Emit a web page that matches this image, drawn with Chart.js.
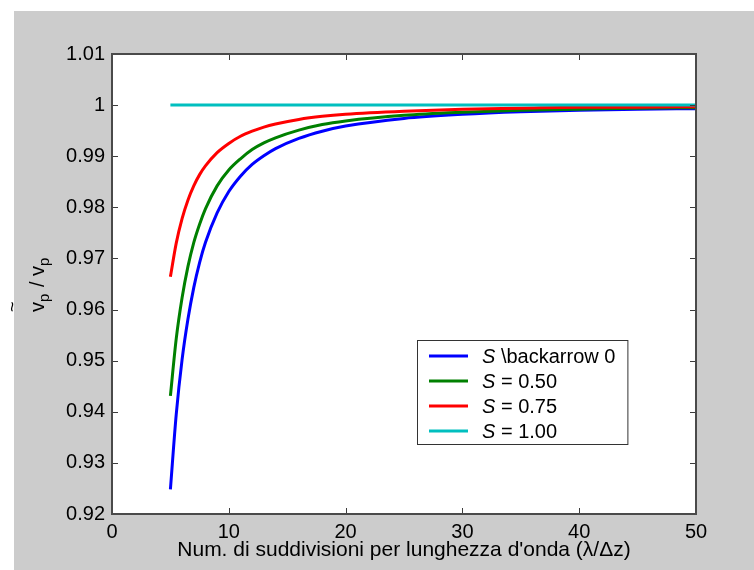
<!DOCTYPE html>
<html>
<head>
<meta charset="utf-8">
<script src="https://cdn.jsdelivr.net/npm/chart.js@4/dist/chart.umd.min.js"></script>
<style>
  html, body { margin: 0; padding: 0; background: #fff; }
</style>
</head>
<body>
<canvas id="grafico" width="754" height="570"></canvas>
<script>
// Dati: rapporto di velocità di fase vs. N = lambda/dz
const divisioni = [5, 5.5, 6, 6.5, 7, 7.5, 8, 9, 10, 11, 12, 13, 14, 16, 18, 20, 25, 30, 35, 40, 45, 50];
const vS0   = [0.9248, 0.9395, 0.9502, 0.9581, 0.9643, 0.9692, 0.9731, 0.9789, 0.9831, 0.9861, 0.9884, 0.9901, 0.9915, 0.9935, 0.9949, 0.9959, 0.9974, 0.9982, 0.9987, 0.9990, 0.9992, 0.9993];
const vS050 = [0.9431, 0.9543, 0.9623, 0.9684, 0.9731, 0.9767, 0.9797, 0.9842, 0.9873, 0.9895, 0.9913, 0.9926, 0.9936, 0.9951, 0.9962, 0.9969, 0.9980, 0.9986, 0.9990, 0.9992, 0.9994, 0.9995];
const vS075 = [0.9664, 0.9730, 0.9778, 0.9814, 0.9842, 0.9864, 0.9881, 0.9907, 0.9925, 0.9939, 0.9949, 0.9957, 0.9963, 0.9972, 0.9978, 0.9982, 0.9988, 0.9992, 0.9994, 0.9996, 0.9996, 0.9997];
const vS100 = [1, 1, 1, 1, 1, 1, 1, 1, 1, 1, 1, 1, 1, 1, 1, 1, 1, 1, 1, 1, 1, 1];

const etichette = ['S \\backarrow 0', 'S = 0.50', 'S = 0.75', 'S = 1.00'];
const tickX = [0, 10, 20, 30, 40, 50];
const tickY = [0.92, 0.93, 0.94, 0.95, 0.96, 0.97, 0.98, 0.99, 1.00, 1.01];
const titoloX = "Num. di suddivisioni per lunghezza d'onda (\u03bb/\u0394z)";

const colori = ['#0000ff', '#008000', '#ff0000', '#00bfbf'];
const FONT = "'Liberation Sans', Arial, sans-serif";
const font20 = { family: FONT, size: 20 };
const font21 = { family: FONT, size: 21 };

const serie = [vS0, vS050, vS075, vS100];

// Sfondo grigio stile MATLAB
const sfondo = {
  id: 'sfondo',
  beforeDraw(chart) {
    const ctx = chart.ctx;
    const a = chart.chartArea;
    ctx.save();
    ctx.fillStyle = '#ffffff';
    ctx.fillRect(0, 0, chart.width, chart.height);
    ctx.fillStyle = '#cccccc';
    ctx.fillRect(14, 11, chart.width - 14, chart.height - 11);
    ctx.fillStyle = '#ffffff';
    ctx.fillRect(a.left, a.top, a.right - a.left, a.bottom - a.top);
    ctx.restore();
  }
};

// Cornice, tacche interne, legenda ed etichetta asse y
const cornice = {
  id: 'cornice',
  afterDraw(chart) {
    const ctx = chart.ctx;
    const { left, right, top, bottom } = chart.chartArea;
    const sx = chart.scales.x;
    const sy = chart.scales.y;
    ctx.save();

    // tacche
    ctx.strokeStyle = '#3c3c3c';
    ctx.lineWidth = 1;
    ctx.beginPath();
    tickX.forEach(v => {
      const px = Math.round(sx.getPixelForValue(v)) + 0.5;
      ctx.moveTo(px, bottom); ctx.lineTo(px, bottom - 6);
      ctx.moveTo(px, top); ctx.lineTo(px, top + 6);
    });
    tickY.forEach(v => {
      const py = Math.round(sy.getPixelForValue(v)) + 0.5;
      ctx.moveTo(left, py); ctx.lineTo(left + 6, py);
      ctx.moveTo(right, py); ctx.lineTo(right - 6, py);
    });
    ctx.stroke();

    // cornice
    ctx.strokeStyle = '#4a4a4a';
    ctx.lineWidth = 2;
    ctx.strokeRect(left, top, right - left, bottom - top);

    // legenda
    ctx.font = '20px ' + FONT;
    const xTesto = 482;
    let larghezza = 0;
    etichette.forEach(t => { larghezza = Math.max(larghezza, ctx.measureText(t).width); });
    const bx = 417, by = 340, bw = xTesto + larghezza + 12 - bx, bh = 104;
    ctx.fillStyle = '#ffffff';
    ctx.fillRect(bx, by, bw, bh);
    ctx.strokeStyle = '#333333';
    ctx.lineWidth = 1;
    ctx.strokeRect(bx + 0.5, by + 0.5, bw, bh);
    chart.data.datasets.forEach((ds, i) => {
      const y = 356 + i * 25;
      ctx.strokeStyle = ds.borderColor;
      ctx.lineWidth = 3;
      ctx.beginPath();
      ctx.moveTo(429, y); ctx.lineTo(468, y);
      ctx.stroke();
      ctx.fillStyle = '#000';
      ctx.textBaseline = 'middle';
      ctx.textAlign = 'left';
      ctx.font = 'italic 20px ' + FONT;
      ctx.fillText('S', xTesto, y + 1);
      const ws = ctx.measureText('S').width;
      ctx.font = '20px ' + FONT;
      ctx.fillText(ds.label.slice(1), xTesto + ws, y + 1);
    });

    // etichetta asse y: v~_p / v_p (ruotata)
    ctx.translate(44, 312);
    ctx.rotate(-Math.PI / 2);
    ctx.fillStyle = '#000';
    ctx.textAlign = 'left';
    ctx.textBaseline = 'alphabetic';
    let x = 0;
    const pezzi = [['v', 20, 0], ['p', 15, 5], [' / ', 20, 0], ['v', 20, 0], ['p', 15, 5]];
    pezzi.forEach(([t, size, dy]) => {
      ctx.font = size + 'px ' + FONT;
      ctx.fillText(t, x, dy);
      x += ctx.measureText(t).width + (size === 15 ? 1 : 0);
    });
    ctx.font = '18px ' + FONT;
    ctx.textBaseline = 'middle';
    ctx.fillText('~', 0, -31);
    ctx.restore();
  }
};

new Chart(document.getElementById('grafico'), {
  type: 'line',
  data: {
    datasets: serie.map((valori, i) => ({
      label: etichette[i],
      data: divisioni.map((n, j) => ({ x: n, y: valori[j] })),
      borderColor: colori[i],
      borderWidth: 3,
      pointRadius: 0,
      fill: false,
      cubicInterpolationMode: 'monotone',
      order: serie.length - i
    }))
  },
  options: {
    responsive: false,
    animation: false,
    layout: { padding: { left: 0, right: 58, top: 54, bottom: 0 } },
    plugins: {
      legend: { display: false },
      tooltip: { enabled: false }
    },
    scales: {
      x: {
        type: 'linear',
        min: 0,
        max: 50,
        afterBuildTicks: s => { s.ticks = tickX.map(v => ({ value: v })); },
        afterFit: s => { s.height = 56; },
        grid: { display: false, drawTicks: false },
        border: { display: false },
        ticks: { font: font20, color: '#000', padding: 6, maxRotation: 0, autoSkip: false },
        title: { display: true, text: titoloX, font: font21, color: '#000', padding: { top: 0, bottom: 7 } }
      },
      y: {
        type: 'linear',
        min: 0.92,
        max: 1.01,
        afterBuildTicks: s => { s.ticks = tickY.map(v => ({ value: v })); },
        afterFit: s => { s.width = 112; },
        grid: { display: false, drawTicks: false },
        border: { display: false },
        ticks: {
          font: font20,
          color: '#000',
          padding: 7,
          autoSkip: false,
          callback: v => String(+Number(v).toFixed(2))
        }
      }
    }
  },
  plugins: [sfondo, cornice]
});
</script>
</body>
</html>
